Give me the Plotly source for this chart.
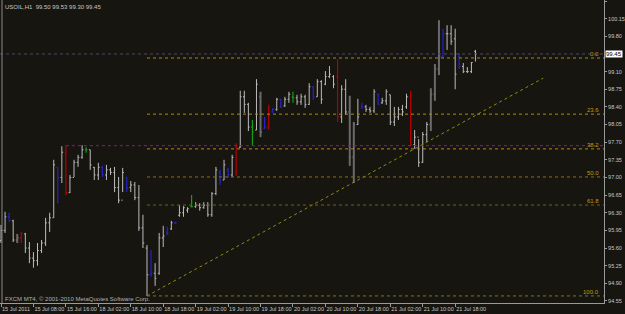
import plotly.graph_objects as go

# ---------------- data ----------------
opens = [95.75, 95.95, 96.22, 96.14, 95.76, 95.80, 95.88, 95.60, 95.40, 95.35,
         95.55, 95.70, 96.10, 96.20, 97.20, 97.00, 97.50, 96.70, 97.00, 97.30,
         97.40, 97.55, 97.55, 97.20, 97.05, 97.20, 97.05, 97.15, 97.10, 96.80,
         96.55, 97.00, 96.80, 96.85, 96.60, 96.00, 95.60, 95.07, 95.10, 95.10,
         95.80, 95.90, 95.98, 96.10, 96.25, 96.30, 96.35, 96.42, 96.42, 96.45,
         96.40, 96.45, 96.26, 96.68, 97.10, 96.95, 97.15, 97.05, 97.10, 97.60,
         98.60, 98.45, 98.00, 97.94, 98.60, 97.98, 98.00, 98.30, 98.35, 98.55,
         98.42, 98.55, 98.60, 98.58, 98.50, 98.60, 98.45, 98.80, 98.60, 98.90,
         98.85, 99.00, 99.00, 99.00, 98.20, 98.75, 98.30, 97.40, 98.05, 98.40,
         98.40, 98.35, 98.32, 98.65, 98.48, 98.52, 98.64, 98.10, 98.20, 98.35,
         98.40, 98.60, 97.65, 97.80, 97.30, 97.85, 98.05, 98.65, 99.15, 99.40,
         99.85, 99.85, 99.75, 99.40, 99.20, 99.10, 99.10, 99.50]
highs = [96.06, 96.32, 96.30, 96.16, 95.88, 95.92, 95.90, 95.72, 95.52, 95.70,
         95.76, 96.20, 96.30, 97.35, 97.21, 97.62, 97.64, 97.05, 97.35, 97.45,
         97.64, 97.60, 97.55, 97.21, 97.29, 97.23, 97.25, 97.19, 97.21, 97.01,
         97.19, 97.01, 96.93, 96.91, 96.85, 96.26, 95.66, 95.56, 95.30, 95.90,
         96.04, 96.02, 96.14, 96.12, 96.45, 96.43, 96.41, 96.65, 96.51, 96.49,
         96.51, 96.51, 96.71, 97.21, 97.15, 97.35, 97.19, 97.45, 97.68, 98.72,
         98.72, 98.48, 98.14, 98.95, 98.70, 98.20, 98.44, 98.38, 98.58, 98.56,
         98.60, 98.70, 98.70, 98.64, 98.66, 98.64, 98.87, 98.81, 98.95, 98.93,
         99.11, 99.21, 99.03, 99.35, 98.83, 98.95, 98.62, 98.10, 98.56, 98.48,
         98.44, 98.40, 98.75, 98.66, 98.58, 98.75, 98.64, 98.40, 98.40, 98.44,
         98.66, 98.72, 97.94, 97.76, 97.90, 98.10, 98.77, 99.25, 100.12, 99.95,
         100.02, 100.02, 99.95, 99.47, 99.27, 99.19, 99.29, 99.53]
lows = [95.70, 95.90, 96.12, 95.72, 95.70, 95.70, 95.50, 95.30, 95.21, 95.25,
        95.50, 95.64, 95.92, 96.20, 96.49, 96.89, 96.65, 96.69, 97.01, 97.21,
        97.37, 97.49, 97.15, 96.95, 96.95, 97.01, 96.95, 97.05, 96.71, 96.49,
        96.71, 96.71, 96.71, 96.55, 95.94, 95.60, 94.65, 95.03, 94.85, 95.07,
        95.62, 95.86, 95.96, 96.08, 96.22, 96.22, 96.30, 96.41, 96.40, 96.34,
        96.38, 96.22, 96.22, 96.65, 96.85, 96.95, 96.99, 97.01, 97.03, 97.59,
        98.28, 97.92, 97.64, 97.94, 97.80, 97.96, 97.94, 98.28, 98.32, 98.38,
        98.40, 98.48, 98.48, 98.44, 98.44, 98.38, 98.44, 98.54, 98.60, 98.46,
        98.83, 98.97, 98.77, 98.10, 98.08, 98.24, 97.23, 96.89, 98.04, 98.36,
        98.30, 98.28, 98.28, 98.44, 98.46, 98.44, 98.04, 98.02, 98.14, 98.22,
        98.36, 97.62, 97.57, 97.21, 97.29, 97.70, 97.92, 98.52, 99.03, 99.37,
        99.53, 99.63, 98.75, 99.15, 99.07, 99.07, 99.07, 99.30]
closes = [95.95, 96.22, 96.14, 95.76, 95.80, 95.88, 95.60, 95.40, 95.35, 95.55,
          95.70, 96.10, 96.20, 97.25, 97.00, 97.50, 96.70, 97.00, 97.30, 97.40,
          97.55, 97.55, 97.25, 97.05, 97.20, 97.05, 97.15, 97.10, 96.80, 96.55,
          97.10, 96.80, 96.85, 96.60, 96.00, 95.70, 95.07, 95.10, 95.00, 95.80,
          95.84, 95.88, 96.10, 96.10, 96.30, 96.40, 96.38, 96.42, 96.45, 96.40,
          96.45, 96.26, 96.68, 97.15, 96.95, 97.25, 97.05, 97.40, 97.60, 98.60,
          98.45, 98.00, 97.90, 98.85, 97.90, 98.00, 98.38, 98.35, 98.55, 98.40,
          98.55, 98.65, 98.58, 98.50, 98.60, 98.45, 98.80, 98.60, 98.90, 98.55,
          99.00, 99.05, 98.85, 98.20, 98.75, 98.30, 97.40, 98.05, 98.20, 98.40,
          98.35, 98.32, 98.70, 98.45, 98.52, 98.70, 98.10, 98.20, 98.35, 98.30,
          98.60, 97.65, 97.80, 97.30, 97.85, 98.05, 98.65, 99.15, 99.40, 99.85,
          99.85, 99.70, 99.05, 99.20, 99.10, 99.10, 99.28, 99.45]

blue_bars = [2, 14, 25, 31, 37, 41, 43, 54, 56, 65, 67, 69, 77, 89, 93, 109, 113]
red_bars = [5, 16, 58, 66, 83, 101]
green_bars = [21, 47, 62, 72]
dim_bars = [4, 64, 86, 87, 106, 107, 108]

time_ticks = [0, 8, 16, 24, 32, 40, 48, 56, 64, 72, 80, 88, 96, 104, 112]
time_labels = ["15 Jul 2011", "15 Jul 08:00", "15 Jul 16:00", "18 Jul 02:00",
               "18 Jul 10:00", "18 Jul 18:00", "19 Jul 02:00", "19 Jul 10:00",
               "19 Jul 18:00", "20 Jul 02:00", "20 Jul 10:00", "20 Jul 18:00",
               "21 Jul 02:00", "21 Jul 10:00", "21 Jul 18:00"]
price_ticks = [100.50, 100.15, 99.80, 99.10, 98.75, 98.40, 98.05, 97.70, 97.35,
               97.00, 96.65, 96.30, 95.95, 95.60, 95.25, 94.90, 94.55]

fib_low_bar = 36
fib_high = 99.37
fib_ratios = [0.0, 23.6, 38.2, 50.0, 61.8, 100.0]
purple_level = 97.63
purple_start_bar = 16
current_price = 99.45
trend_end_x = 133.7
trend_end_y = 98.97
symbol_text = "USOIL,H1  99.50 99.53 99.30 99.45"
copyright_text = "FXCM MT4, \u00a9 2001-2010 MetaQuotes Software Corp."

# ---------------- figure ----------------
X0, X1 = -0.25, 148.7
Y0, Y1 = 94.51, 100.52
BG = "#171510"
TXT = "#c8c8c8"
FONT = "Liberation Sans"


def bar_segments(idx_list, half=0.32):
    xs, ys = [], []
    for i in idx_list:
        xs += [i, i, None, i - half, i, None, i, i + half, None]
        ys += [lows[i], highs[i], None, opens[i], opens[i], None, closes[i], closes[i], None]
    return xs, ys


fig = go.Figure()

special = set(blue_bars) | set(red_bars) | set(green_bars) | set(dim_bars)
gray_idx = [i for i in range(len(opens)) if i not in special]

groups = [
    (dim_bars, "#6a6a6a", 2),
    (gray_idx, "#bcbcbc", 1),
    (blue_bars, "#2424c8", 1.2),
    (red_bars, "#b40000", 1.2),
    (green_bars, "#10a010", 1.2),
]
for idx, col, w in groups:
    xs, ys = bar_segments(idx)
    fig.add_trace(go.Scatter(x=xs, y=ys, mode="lines", line=dict(color=col, width=w),
                             hoverinfo="skip", showlegend=False))

# trendline
fig.add_trace(go.Scatter(x=[fib_low_bar, trend_end_x], y=[lows[fib_low_bar], trend_end_y],
                         mode="lines", line=dict(color="#8c8c14", width=1, dash="dot"),
                         hoverinfo="skip", showlegend=False))

shapes = []
annotations = []
fib_low = lows[fib_low_bar]
fib_cols = {0.0: "#b08c10", 23.6: "#b08c10", 38.2: "#b08c10", 50.0: "#8a7014",
            61.8: "#6e6018", 100.0: "#8a7014"}
for r in fib_ratios:
    lvl = fib_high - (fib_high - fib_low) * r / 100.0
    shapes.append(dict(type="line", xref="x", yref="y", x0=fib_low_bar, x1=X1, y0=lvl, y1=lvl,
                       line=dict(color=fib_cols[r], width=1, dash="dot"), layer="above"))
    annotations.append(dict(xref="paper", yref="y", x=601 / 604, y=lvl, xanchor="right",
                            yanchor="bottom", text="%.1f" % r, showarrow=False,
                            font=dict(family=FONT, size=6, color="#c09a10"), yshift=-1))

shapes.append(dict(type="line", xref="x", yref="y", x0=purple_start_bar, x1=X1,
                   y0=purple_level, y1=purple_level,
                   line=dict(color="#8a1a8a", width=1, dash="dot")))
shapes.append(dict(type="line", xref="paper", yref="y", x0=0, x1=1,
                   y0=current_price, y1=current_price,
                   line=dict(color="#4a4a6a", width=1, dash="dot")))
shapes.append(dict(type="line", xref="paper", yref="paper", x0=2 / 604, x1=2 / 604, y0=0, y1=1,
                   line=dict(color="#8a8a8a", width=1)))

annotations.append(dict(xref="paper", yref="paper", x=3 / 604, y=1 - 2 / 303, xanchor="left",
                        yanchor="top", text=symbol_text, showarrow=False,
                        font=dict(family=FONT, size=6, color=TXT)))
annotations.append(dict(xref="paper", yref="paper", x=3 / 604, y=4 / 303, xanchor="left",
                        yanchor="middle", text=copyright_text, showarrow=False,
                        font=dict(family=FONT, size=6, color="#b0b0b0")))
annotations.append(dict(xref="paper", yref="y", x=1 + 1 / 604, y=current_price, xanchor="left",
                        yanchor="middle", text="%.2f" % current_price, showarrow=False,
                        bgcolor="#ffffff", borderpad=0,
                        font=dict(family=FONT, size=6, color="#000000")))

fig.update_layout(
    width=625, height=314,
    margin=dict(l=0, r=21, t=0, b=11, autoexpand=False),
    paper_bgcolor=BG, plot_bgcolor=BG,
    shapes=shapes, annotations=annotations,
    showlegend=False,
    xaxis=dict(range=[X0, X1], tickvals=time_ticks, ticktext=time_labels,
               tickangle=0, automargin=False,
               showgrid=False, zeroline=False, showline=True, linecolor="#9a9a9a",
               linewidth=1, ticks="outside", ticklen=3, tickcolor="#9a9a9a",
               ticklabelposition="outside right",
               tickfont=dict(family=FONT, size=5.5, color=TXT)),
    yaxis=dict(range=[Y0, Y1], side="right", tickvals=price_ticks, automargin=False,
               ticktext=["%.2f" % v for v in price_ticks],
               showgrid=False, zeroline=False, showline=True, linecolor="#9a9a9a",
               linewidth=1, ticks="outside", ticklen=2, tickcolor="#9a9a9a",
               tickfont=dict(family=FONT, size=5.5, color=TXT)),
)

fig.write_html("out.html")
